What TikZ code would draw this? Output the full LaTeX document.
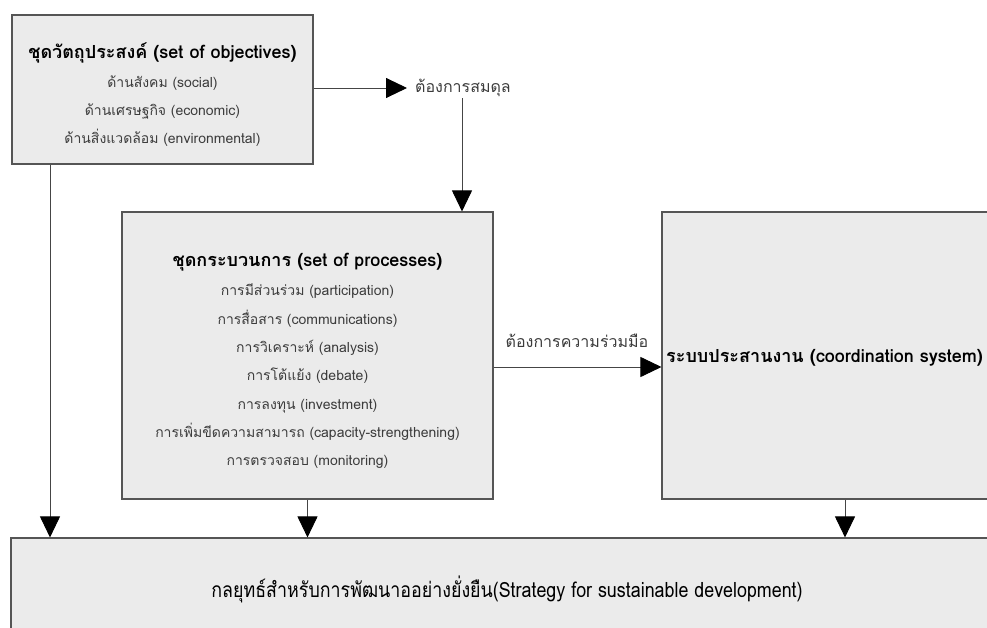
\documentclass[tikz,border=0pt]{standalone}
\usepackage{fontspec}
\usetikzlibrary{arrows.meta}
\setmainfont{Loma}[Script=Thai]
\newfontfamily\thaicond{Loma}[Script=Thai,FakeStretch=0.85]
\definecolor{boxfill}{HTML}{EBEBEB}
\definecolor{boxline}{HTML}{555555}
\definecolor{linkline}{HTML}{454545}
\definecolor{itemtext}{HTML}{3C3C3C}
\begin{document}
\begin{tikzpicture}[x=1pt,y=-1pt,
  panel/.style={draw=boxline,fill=boxfill,line width=1.1pt,inner sep=0pt,rectangle},
  heading/.style={font=\bfseries\fontsize{18}{21}\selectfont,text=black},
  items/.style={align=center,text=itemtext,font=\fontsize{14}{28.3}\selectfont},
  linklabel/.style={text=itemtext,font=\fontsize{16}{19}\selectfont},
  link/.style={draw=linkline,line width=0.9pt,
    -{Triangle[length=21pt,width=20pt,fill=black,color=black]}}]
\useasboundingbox (0,0) rectangle (987,628);
\clip (0,0) rectangle (987,628);

% boxes
\node[panel,minimum width=301pt,minimum height=149pt] (obj) at (162.5,89.5) {};
\node[panel,minimum width=371pt,minimum height=287pt] (proc) at (307.5,355.5) {};
\node[panel,minimum width=366pt,minimum height=287pt] (coord) at (845,355.5) {};
\node[panel,minimum width=1010pt,minimum height=120pt] (goal) at (516,598) {};

% texts of the objectives box
\node[heading] (objtitle) at (162.5,53) {ชุดวัตถุประสงค์ (set of objectives)};
\node[items,anchor=north] (objitems) at (162.5,72) {ด้านสังคม (social)\\ด้านเศรษฐกิจ (economic)\\ด้านสิ่งแวดล้อม (environmental)};

% texts of the processes box
\node[heading] (proctitle) at (307.5,262) {ชุดกระบวนการ (set of processes)};
\node[items,anchor=north] (procitems) at (307.5,280.5) {การมีส่วนร่วม (participation)\\การสื่อสาร (communications)\\การวิเคราะห์ (analysis)\\การโต้แย้ง (debate)\\การลงทุน (investment)\\การเพิ่มขีดความสามารถ (capacity-strengthening)\\การตรวจสอบ (monitoring)};

% coordination box and strategy box labels
\node[heading,anchor=west,inner sep=2pt] (coordtitle) at (664,358) {ระบบประสานงาน (coordination system)};
\node[font=\thaicond\fontsize{21}{25}\selectfont,text=black] (goaltitle) at (507,589) {กลยุทธ์สำหรับการพัฒนาออย่างยั่งยืน(Strategy for sustainable development)};

% connector labels
\node[linklabel,anchor=west,inner xsep=8pt] (balance) at (407,88) {ต้องการสมดุล};
\node[linklabel] (coop) at (577,341) {ต้องการความร่วมมือ};

% x positions of the vertical links
\coordinate (xa) at (50,0);
\coordinate (xb) at (462,0);

% connectors
\draw[link] (obj.east |- balance.west) -- (balance.west);
\draw[link] (balance.south -| xb) ++(0,-2) -- (proc.north -| xb);
\draw[link] ([yshift=-11.5pt]proc.east) -- ([yshift=-11.5pt]coord.west);
\draw[link] (obj.south -| xa) -- (goal.north -| xa);
\draw[link] (proc.south) -- (proc.south |- goal.north);
\draw[link] (coord.south) -- (coord.south |- goal.north);
\end{tikzpicture}
\end{document}
